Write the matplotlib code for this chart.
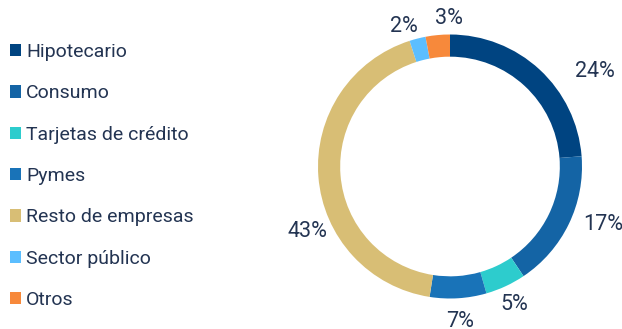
import matplotlib
matplotlib.use("Agg")
import matplotlib.pyplot as plt
from matplotlib.patches import Patch
import numpy as np

# cartera por segmento (%)
categorias = ["Hipotecario", "Consumo", "Tarjetas de crédito", "Pymes",
              "Resto de empresas", "Sector público", "Otros"]
valores = [24, 17, 5, 7, 43, 2, 3]
colores = ["#004481", "#1464A5", "#2DCCCD", "#1973B8",
           "#D8BE75", "#5BBEFF", "#F7893B"]

# ajuste de cada etiqueta: (giro en grados, distancia al centro)
ajuste_etiqueta = [(-14, 1.31), (5, 1.24), (0, 1.15), (0, 1.18),
                   (20, 1.19), (4, 1.12), (-5, 1.12)]

plt.rcParams['font.family'] = ['Roboto', 'DejaVu Sans']
color_texto = "#233452"

fig = plt.figure(figsize=(6.22, 3.29), dpi=100)
W, H = 622, 329
cx, cy, r = 450, 166.5, 132
lim = 1.3
lado = 2 * lim * r
ax = fig.add_axes([(cx - lado / 2) / W, (H - cy - lado / 2) / H, lado / W, lado / H])

wedges, _ = ax.pie(valores, colors=colores, startangle=90, counterclock=False,
                   radius=1, wedgeprops=dict(width=0.168, linewidth=0))
ax.set_xlim(-lim, lim)
ax.set_ylim(-lim, lim)
ax.set_aspect("equal")
ax.axis("off")

for w, v, (giro, d) in zip(wedges, valores, ajuste_etiqueta):
    ang = np.radians((w.theta1 + w.theta2) / 2 + giro)
    ax.text(d * np.cos(ang), d * np.sin(ang), f"{v}%", ha="center", va="center",
            fontsize=15.5, color=color_texto, clip_on=False)

handles = [Patch(facecolor=c, edgecolor="none") for c in colores]
fig.legend(handles, categorias, loc="upper left", bbox_to_anchor=(0.003, 0.893),
           frameon=False, fontsize=14, handlelength=0.6, handleheight=0.6,
           handletextpad=0.25, labelspacing=1.2, borderaxespad=0,
           labelcolor=color_texto)

fig.savefig("out.png", dpi=100)
